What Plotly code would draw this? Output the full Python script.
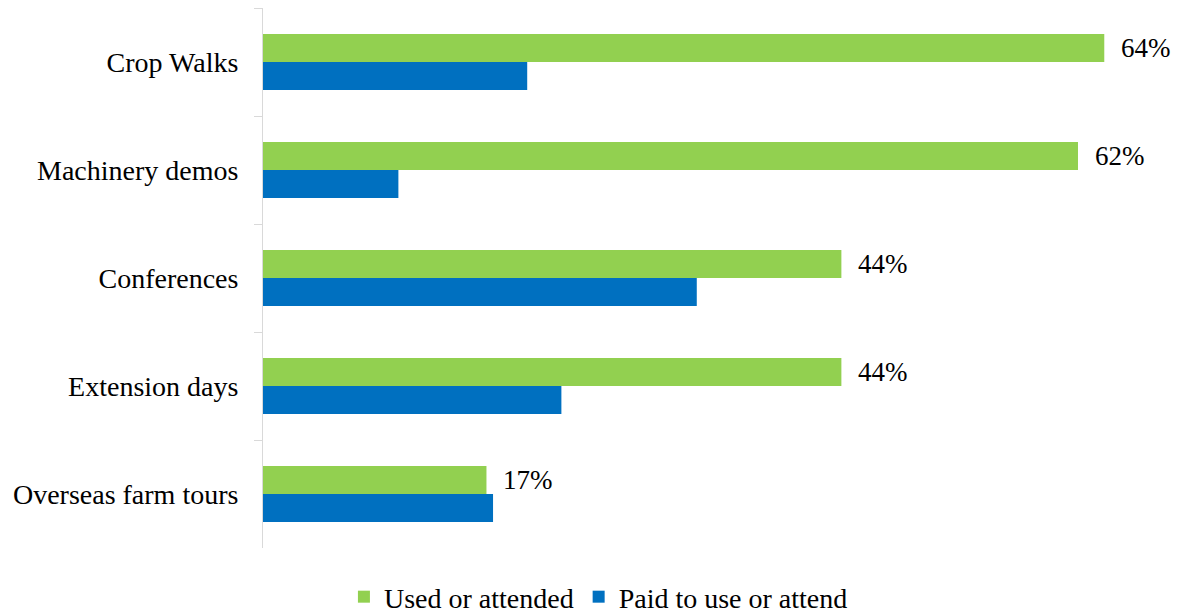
import plotly.graph_objects as go

# Categories listed top to bottom
categories = ["Crop Walks", "Machinery demos", "Conferences", "Extension days", "Overseas farm tours"]
used_or_attended = [64, 62, 44, 44, 17]
paid_to_use = [20.1, 10.3, 33.0, 22.7, 17.5]

GREEN = "#92D050"
BLUE = "#0070C0"
FONT = "Liberation Serif, Times New Roman, serif"

fig = go.Figure()
fig.add_trace(go.Bar(
    name="Used or attended", y=categories, x=used_or_attended,
    orientation="h", marker=dict(color=GREEN, line=dict(width=0)),
))
fig.add_trace(go.Bar(
    name="Paid to use or attend", y=categories, x=paid_to_use,
    orientation="h", marker=dict(color=BLUE, line=dict(width=0)),
))

# Percentage labels at the end of the green bars
for cat, v in zip(categories, used_or_attended):
    fig.add_annotation(
        x=v, y=cat, xref="x", yref="y", text=f"{v}%",
        showarrow=False, xanchor="left", yanchor="middle",
        xshift=15, yshift=14,
        font=dict(family=FONT, size=27, color="#000000"),
    )

fig.update_layout(
    width=1178, height=615,
    margin=dict(l=263, r=8, t=8, b=67, autoexpand=False),
    paper_bgcolor="white", plot_bgcolor="white",
    barmode="group", bargap=0.48, bargroupgap=0,
    font=dict(family=FONT, size=28, color="#000000"),
    showlegend=True,
    legend=dict(
        orientation="h", xref="container", yref="paper",
        x=0.508, xanchor="center", y=-0.0907, yanchor="middle",
        font=dict(family=FONT, size=28, color="#000000"),
        traceorder="normal",
    ),
    xaxis=dict(range=[0, 69], visible=False, showgrid=False, zeroline=False, fixedrange=True),
    yaxis=dict(
        autorange="reversed", showline=True, linecolor="#D9D9D9", linewidth=1,
        ticks="outside", tickson="boundaries", ticklen=8, tickcolor="#D9D9D9",
        ticklabelstandoff=18, showgrid=False, zeroline=False,
        tickfont=dict(family=FONT, size=28, color="#000000"),
    ),
)

fig.write_html("out.html")
